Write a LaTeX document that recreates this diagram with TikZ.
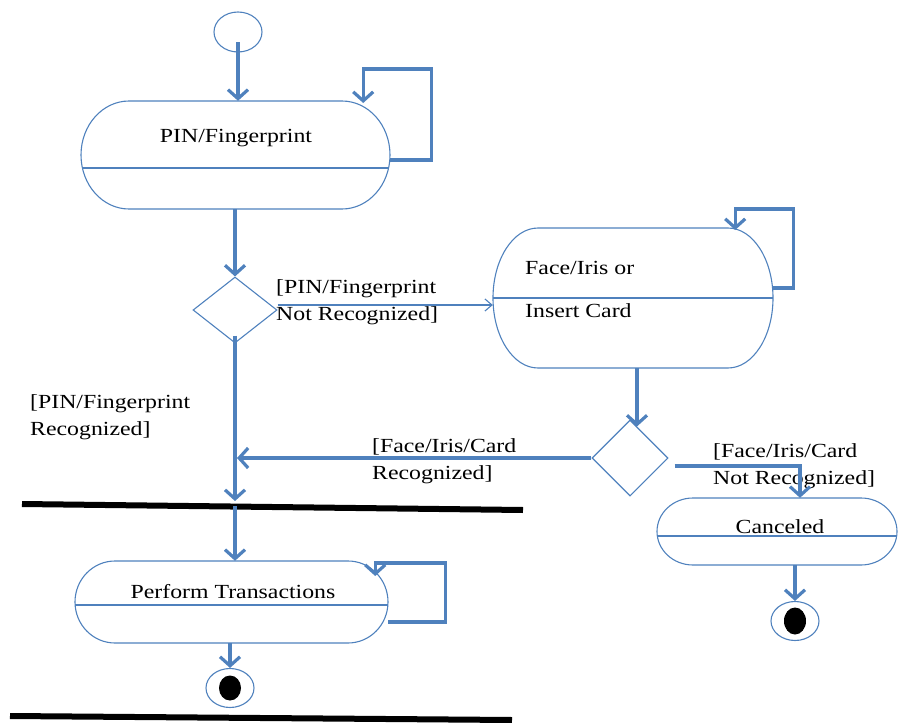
\documentclass[tikz,border=0pt]{standalone}
\usepackage{fontspec}
\setmainfont[FakeStretch=1.19]{Liberation Serif}
\usetikzlibrary{arrows.meta,shapes.geometric}
\definecolor{umlblue}{HTML}{4F81BD}
\tikzset{
  outline/.style={draw=umlblue, line width=1.1pt},
  flow/.style={draw=umlblue, line width=3.2pt, -{Straight Barb[length=9pt,width=20pt]}},
  thinflow/.style={draw=umlblue, line width=1.1pt, -{Straight Barb[length=7pt,width=12pt]}},
  txt/.style={font=\fontsize{20}{27}\selectfont, inner sep=0pt, text=black},
  lbl/.style={txt, align=left, anchor=north west},
  decision/.style={diamond, outline, inner sep=0pt},
  endst/.style={ellipse, outline, inner sep=0pt, minimum width=48pt, minimum height=39pt},
  syncbar/.style={line width=6pt, draw=black},
  boxnode/.style={rectangle, draw=none, inner sep=0pt},
}
% #1 name, #2 x1, #3 y1, #4 x2, #5 y2, #6 rx, #7 divider y
\newcommand{\stadbox}[7]{%
  \pgfmathsetmacro\Sxa{#2}\pgfmathsetmacro\Sya{#3}%
  \pgfmathsetmacro\Sxb{#4}\pgfmathsetmacro\Syb{#5}%
  \pgfmathsetmacro\Sym{(#3+#5)/2}\pgfmathsetmacro\Sry{(#5-#3)/2}%
  \pgfmathsetmacro\Sla{#2+#6}\pgfmathsetmacro\Slb{#2+#6-0.5523*#6}%
  \pgfmathsetmacro\Sra{#4-#6}\pgfmathsetmacro\Srb{#4-#6+0.5523*#6}%
  \pgfmathsetmacro\Syu{\Sym-0.5523*\Sry}\pgfmathsetmacro\Syd{\Sym+0.5523*\Sry}%
  \node[boxnode, minimum width={(#4)-(#2)}, minimum height={(#5)-(#3)}] (#1) at (\Sym*0+#2/2+#4/2,\Sym) {};
  \draw[outline] (\Sla,\Sya) -- (\Sra,\Sya) .. controls (\Srb,\Sya) and (\Sxb,\Syu) .. (\Sxb,\Sym)
     .. controls (\Sxb,\Syd) and (\Srb,\Syb) .. (\Sra,\Syb) -- (\Sla,\Syb)
     .. controls (\Slb,\Syb) and (\Sxa,\Syd) .. (\Sxa,\Sym)
     .. controls (\Sxa,\Syu) and (\Slb,\Sya) .. cycle;
  \begin{scope}
    \clip (\Sla,\Sya) -- (\Sra,\Sya) .. controls (\Srb,\Sya) and (\Sxb,\Syu) .. (\Sxb,\Sym)
     .. controls (\Sxb,\Syd) and (\Srb,\Syb) .. (\Sra,\Syb) -- (\Sla,\Syb)
     .. controls (\Slb,\Syb) and (\Sxa,\Syd) .. (\Sxa,\Sym)
     .. controls (\Sxa,\Syu) and (\Slb,\Sya) .. cycle;
    \draw[outline] (#2,#7) -- (#4,#7);
  \end{scope}
}
\begin{document}
\begin{tikzpicture}[x=1pt,y=-1pt]
\useasboundingbox (0,0) rectangle (898,723);

% start node
\node[ellipse, outline, inner sep=0pt, minimum width=48pt, minimum height=40pt] (start) at (238,32) {};

% activity boxes
\stadbox{pin}{81}{101}{390}{209}{48}{168}
\node[txt, anchor=base] (pinT) at (236,142) {PIN/Fingerprint};

\stadbox{face}{493}{228}{773}{368}{45}{298}
\node[txt, font=\fontsize{20}{43}\selectfont, align=left, anchor=north west] (faceT) at (525,261) {Face/Iris or\\Insert Card};

\stadbox{cancel}{657}{498}{897}{565}{36}{536}
\node[txt, anchor=base] (cancelT) at (780,533) {Canceled};

\stadbox{perf}{75}{561}{388}{643}{40}{605}
\node[txt, anchor=base] (perfT) at (233,598) {Perform Transactions};

% decisions
\node[decision, minimum width=84pt, minimum height=66pt] (d1) at (235,310) {};
\node[decision, minimum width=76pt, minimum height=76pt] (d2) at (630,458) {};

% end states
\node[endst] (end1) at (230,688) {};
\fill[black] (end1) ellipse [x radius=11, y radius=12.5];
\node[endst] (end2) at (795,621) {};
\fill[black] (end2) ellipse [x radius=11, y radius=13.5];

% synchronisation bars
\coordinate (b1a) at (22,504);
\coordinate (b1b) at (523,510);
\draw[syncbar] (b1a) -- (b1b);
\coordinate (b2a) at (10,716);
\coordinate (b2b) at (512,720);
\draw[syncbar] (b2a) -- (b2b);
\coordinate (m1) at (235,506);
\coordinate (j1) at (237,458);

% guard labels
\node[lbl] (lab1) at (276,279) {[PIN/Fingerprint\\Not Recognized]};
\node[lbl] (lab2) at (30,394.5) {[PIN/Fingerprint\\Recognized]};
\node[lbl] (lab3) at (372,438.5) {[Face/Iris/Card\\Recognized]};
\node[lbl] (lab4) at (713,443.5) {[Face/Iris/Card\\Not Recognized]};

% connectors
\draw[flow] ([yshift=-10pt]start.center) -- (start.center |- pin.north);
\draw[flow] (pin.south -| d1.north) -- (d1.north);
\draw[thinflow] ([yshift=5pt]d1.east) -- ([yshift=-7pt]face.west);
\draw[flow] ([yshift=8pt]d1.south) -- ([yshift=5pt]m1);
\draw[flow] (d2.west) -- (j1);
\draw[flow] ([xshift=4pt]face.south) -- ([xshift=7pt,yshift=-7pt]d2.north);
\draw[flow] ([xshift=6pt,yshift=-8pt]d2.east) -| ([xshift=23pt]cancel.north);
\draw[flow] ([xshift=18pt]cancel.south) -- (end2.north);
\draw[flow] (m1) -- (m1 |- perf.north);
\draw[flow] (perf.south -| end1.north) -- (end1.north);

% self loops
\draw[flow] ([yshift=-5pt]pin.east) -- ++(41,0) -- ++(0,-91) -- ++(-68,0) -- ++(0,34);
\draw[flow] ([yshift=10pt]face.east) -- ++(20,0) -- ++(0,-79) -- ++(-58,0) -- ++(0,21);
\draw[flow] ([yshift=-20pt]perf.east) -- ++(57,0) -- ++(0,-59) -- ++(-70,0) -- ++(0,13);
\end{tikzpicture}
\end{document}
